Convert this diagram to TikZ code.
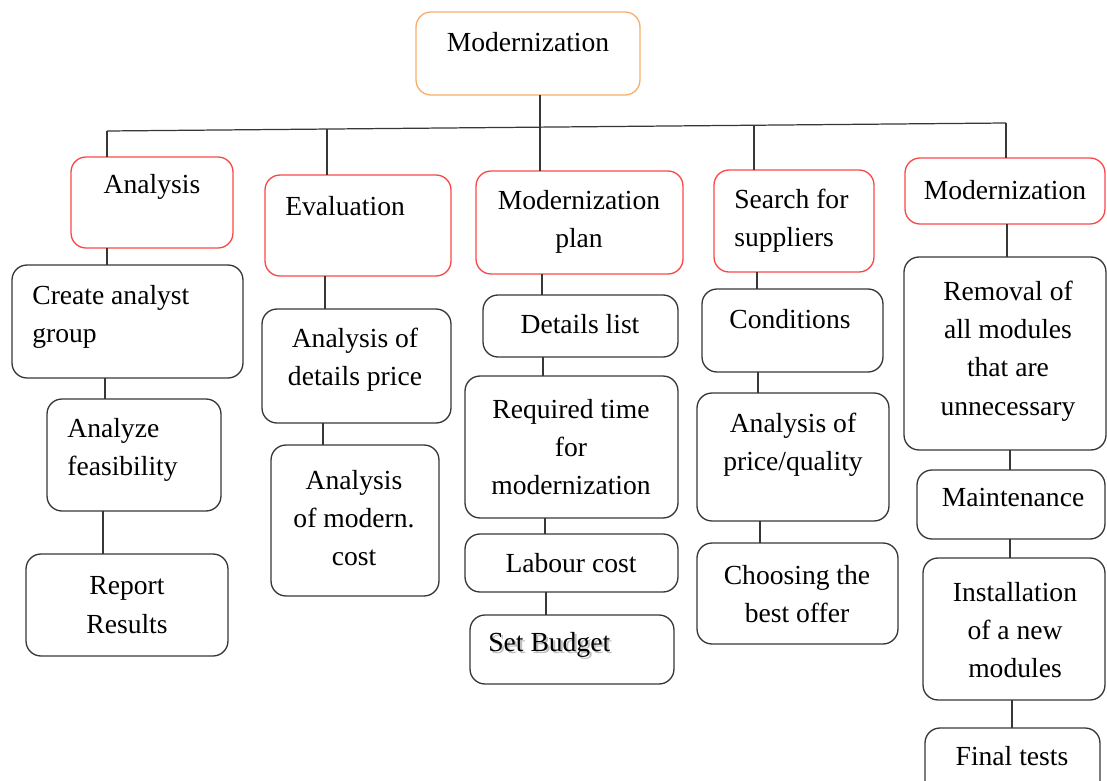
\documentclass[tikz,border=0pt]{standalone}
\usepackage{fontspec}
\setmainfont{Liberation Serif}
\usepackage{tikz}
\usetikzlibrary{calc}
\usetikzlibrary{positioning}
\definecolor{tangerine}{RGB}{247, 174, 108}
\definecolor{cinnabar}{RGB}{250, 72, 72}
\definecolor{graphite}{RGB}{55, 55, 55}
\tikzset{
  box/.style={draw=graphite, line width=0.75pt, rounded corners=0.3cm, inner sep=0pt, outer sep=0pt},
  rootbox/.style={box, draw=tangerine},
  phasebox/.style={box, draw=cinnabar},
  txt/.style={font=\fontsize{15.7}{21.8}\selectfont, align=center, inner sep=0pt},
  ltxt/.style={txt, align=left, anchor=west},
  link/.style={draw=graphite, line width=0.7pt}
}

\begin{document}
\begin{tikzpicture}[x=0.02cm, y=-0.02cm]
            \useasboundingbox (0,0) rectangle (1107,781);
            \node[rootbox,  minimum width=4.48cm, minimum height=1.66cm] (root) at ( 528.0,  53.5) {};
            \node[txt]  (root-t) at ( 528, 42) {Modernization};

            \node[phasebox, minimum width=3.24cm, minimum height=1.82cm] (ana)  at ( 152.0, 202.5) {};
            \node[txt]  (ana-t)  at ( 152, 187) {Analysis};
            \node[phasebox, minimum width=3.72cm, minimum height=2.02cm] (eva)  at ( 358.0, 225.5) {};
            \node[ltxt] (eva-t)  at ( 285, 206) {Evaluation};
            \node[phasebox, minimum width=4.14cm, minimum height=2.06cm] (plan) at ( 579.5, 222.5) {};
            \node[txt]  (plan-t) at ( 579, 222) {Modernization\\plan};
            \node[phasebox, minimum width=3.20cm, minimum height=2.04cm] (sup)  at ( 794.0, 221.0) {};
            \node[ltxt] (sup-t)  at ( 734, 221) {Search for\\suppliers};
            \node[phasebox, minimum width=4.00cm, minimum height=1.32cm] (mod)  at (1005.0, 191.0) {};
            \node[txt]  (mod-t)  at (1005, 190) {Modernization};

            \node[box, minimum width=4.62cm, minimum height=2.26cm] (grp)  at ( 127.5, 321.5) {};
            \node[ltxt] (grp-t)  at (  32, 317) {Create analyst\\group};
            \node[box, minimum width=3.48cm, minimum height=2.24cm] (feas) at ( 134.0, 455.0) {};
            \node[ltxt] (feas-t) at (  67, 450) {Analyze\\feasibility};
            \node[box, minimum width=4.04cm, minimum height=2.04cm] (rep)  at ( 127.0, 605.0) {};
            \node[txt]  (rep-t)  at ( 127, 605) {Report\\Results};

            \node[box, minimum width=3.78cm, minimum height=2.28cm] (dprc) at ( 356.5, 366.0) {};
            \node[txt]  (dprc-t) at ( 355, 360) {Analysis of\\details price};
            \node[box, minimum width=3.36cm, minimum height=3.02cm] (mcst) at ( 355.0, 520.5) {};
            \node[txt]  (mcst-t) at ( 354, 518) {Analysis\\of modern.\\cost};

            \node[box, minimum width=3.90cm, minimum height=1.24cm] (dlst) at ( 580.5, 326.0) {};
            \node[txt]  (dlst-t) at ( 580, 324) {Details list};
            \node[box, minimum width=4.26cm, minimum height=2.84cm] (time) at ( 571.5, 447.0) {};
            \node[txt]  (time-t) at ( 571, 447) {Required time\\for\\modernization};
            \node[box, minimum width=4.26cm, minimum height=1.16cm] (lab)  at ( 571.5, 563.0) {};
            \node[txt]  (lab-t)  at ( 571, 563) {Labour cost};
            \node[box, minimum width=4.08cm, minimum height=1.38cm] (bud)  at ( 572.0, 649.5) {};
            \node[ltxt, text=black!25, xshift=1.2pt, yshift=-1.2pt] (bud-s) at ( 488, 645) {Set Budget};
            \node[ltxt] (bud-t)  at ( 488, 645) {Set Budget};

            \node[box, minimum width=3.62cm, minimum height=1.66cm] (cond) at ( 792.5, 330.5) {};
            \node[txt]  (cond-t) at ( 790, 319) {Conditions};
            \node[box, minimum width=3.84cm, minimum height=2.56cm] (pq)   at ( 793.0, 457.0) {};
            \node[txt]  (pq-t)   at ( 793, 445) {Analysis of\\price/quality};
            \node[box, minimum width=4.02cm, minimum height=2.02cm] (offr) at ( 797.5, 593.5) {};
            \node[txt]  (offr-t) at ( 797, 594) {Choosing the\\best offer};

            \node[box, minimum width=4.04cm, minimum height=3.86cm] (rem)  at (1005.0, 353.5) {};
            \node[txt]  (rem-t)  at (1008, 351) {Removal of\\all modules\\that are\\unnecessary};
            \node[box, minimum width=3.76cm, minimum height=1.38cm] (mnt)  at (1011.0, 504.5) {};
            \node[txt]  (mnt-t)  at (1013, 498) {Maintenance};
            \node[box, minimum width=3.64cm, minimum height=2.84cm] (inst) at (1014.0, 629.0) {};
            \node[txt]  (inst-t) at (1015, 630) {Installation\\of a new\\modules};
            \node[box, minimum width=3.50cm, minimum height=1.44cm] (fin)  at (1012.5, 764.0) {};
            \node[txt]  (fin-t)  at (1012, 756) {Final tests};

            \coordinate (busL) at ( 107, 131);
            \coordinate (busR) at (1006, 123);
            \coordinate (bus2) at ( 327, 129);
            \coordinate (bus3) at ( 540, 127);
            \coordinate (bus4) at ( 754, 125);
            \draw[link] (busL) -- (busR);
            \draw[link] (root.south -| bus3) -- (bus3);
            \draw[link] (busL) -- (ana.north -| busL);
            \draw[link] (bus2) -- (eva.north -| bus2);
            \draw[link] (bus3) -- (plan.north -| bus3);
            \draw[link] (bus4) -- (sup.north -| bus4);
            \draw[link] (busR) -- (mod.north -| busR);

            \draw[link] (ana.south  -| 107,0) -- (grp.north  -| 107,0);
            \draw[link] (grp.south  -| 105,0) -- (feas.north -| 105,0);
            \draw[link] (feas.south -| 103,0) -- (rep.north  -| 103,0);
            \draw[link] (eva.south  -| 325,0) -- (dprc.north -| 325,0);
            \draw[link] (dprc.south -| 323,0) -- (mcst.north -| 323,0);
            \draw[link] (plan.south -| 542,0) -- (dlst.north -| 542,0);
            \draw[link] (dlst.south -| 543,0) -- (time.north -| 543,0);
            \draw[link] (time.south -| 545,0) -- (lab.north  -| 545,0);
            \draw[link] (lab.south  -| 546,0) -- (bud.north  -| 546,0);
            \draw[link] (sup.south  -| 757,0) -- (cond.north -| 757,0);
            \draw[link] (cond.south -| 758,0) -- (pq.north   -| 758,0);
            \draw[link] (pq.south   -| 760,0) -- (offr.north -| 760,0);
            \draw[link] (mod.south  -| 1007,0) -- (rem.north  -| 1007,0);
            \draw[link] (rem.south  -| 1010,0) -- (mnt.north  -| 1010,0);
            \draw[link] (mnt.south  -| 1010,0) -- (inst.north -| 1010,0);
            \draw[link] (inst.south -| 1012,0) -- (fin.north  -| 1012,0);
        \end{tikzpicture}
\end{document}
